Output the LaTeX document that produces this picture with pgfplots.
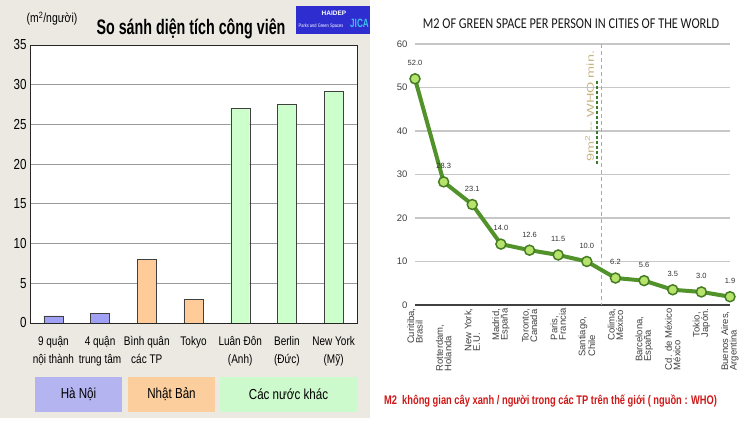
\documentclass[border=0pt]{standalone}
\usepackage{pgfplots}
\pgfplotsset{compat=1.18}
\usepackage{fontspec}
\setmainfont{Liberation Sans}
\newfontfamily\lf[FakeStretch=0.8]{Liberation Sans}
\newfontfamily\lft[FakeStretch=0.68]{Liberation Sans}
\newfontfamily\cf[FakeStretch=0.82]{Carlito}
\newfontfamily\rcap[FakeStretch=0.745]{Liberation Sans}
\newfontfamily\whof[FakeStretch=1.45]{Liberation Sans}
\definecolor{beige}{HTML}{ECE9E3}
\definecolor{hnbar}{HTML}{A0A0F5}
\definecolor{hnbox}{HTML}{B4B4F0}
\definecolor{nbbar}{HTML}{FFCC99}
\definecolor{nbbox}{HTML}{FCCE9E}
\definecolor{gbar}{HTML}{CCFFCC}
\definecolor{gbox}{HTML}{CCFACC}
\definecolor{logoblue}{HTML}{2E2ED0}
\definecolor{jica}{HTML}{3CC0F0}
\definecolor{lgreen}{HTML}{52922A}
\definecolor{mfill}{HTML}{B5E36B}
\definecolor{whotan}{HTML}{D8A848}
\definecolor{whotext}{HTML}{C8B682}
\definecolor{dgreen}{HTML}{3A7A2A}
\definecolor{capred}{HTML}{D01818}
\begin{document}
\begin{tikzpicture}[x=1pt,y=1pt]
\path[fill=white] (0,0) rectangle (750,430);
\fill[beige] (0,12) rectangle (370,430);
% ---------- left chart ----------
\begin{axis}[
  at={(30pt,107pt)}, anchor=south west,
  scale only axis, width=327pt, height=278pt,
  xmin=-0.5, xmax=6.5, ymin=0, ymax=35,
  ytick={0,5,...,35},
  xtick={0,...,6},
  xticklabels={{9 quận\\nội thành},{4 quận\\trung tâm},{Bình quân\\các TP},{Tokyo},{Luân Đôn\\(Anh)},{Berlin\\(Đức)},{New York\\(Mỹ)}},
  xticklabel style={align=center, font=\lf\fontsize{12.5}{18}\selectfont, yshift=-10pt},
  yticklabel style={font=\lf\fontsize{14.5}{14.5}\selectfont},
  /pgf/number format/assume math mode=true,
  major tick length=0pt,
  ymajorgrids, grid style={black!40, line width=0.8pt},
  axis line style={black!85, line width=0.8pt},
  axis background/.style={fill=white},
  ybar, bar width=19pt,
]
\addplot[fill=hnbar, draw=black!75, bar shift=0pt] coordinates {(0,0.9) (1,1.2)};
\addplot[fill=nbbar, draw=black!75, bar shift=0pt] coordinates {(2,8.0) (3,3.0)};
\addplot[fill=gbar, draw=black!75, bar shift=0pt] coordinates {(4,27.0) (5,27.5) (6,29.2)};
\end{axis}
\node[font=\lft\bfseries\fontsize{21}{21}\selectfont] at (191,401) {So sánh diện tích công viên};
\node[font=\lf\fontsize{13}{13}\selectfont] at (52,411) {(m\textsuperscript{2}/người)};
% logo
\fill[logoblue] (296,396) rectangle (370,424);
\node[text=white, font=\bfseries\fontsize{6.5}{7}\selectfont] at (334,417) {HAIDEP};
\node[text=white, font=\lf\fontsize{5}{5}\selectfont] at (321,403.5) {Parks and Green Spaces};
\node[text=jica, font=\lft\bfseries\fontsize{12}{12}\selectfont] at (359.5,407) {JICA};
% group boxes
\fill[hnbox] (35,18) rectangle (122,53);
\fill[nbbox] (128,18) rectangle (215,53);
\fill[gbox] (220,18) rectangle (357,53);
\node[font=\lf\fontsize{14.5}{14.5}\selectfont] at (78.5,36) {Hà Nội};
\node[font=\lf\fontsize{14.5}{14.5}\selectfont] at (171.5,36) {Nhật Bản};
\node[font=\lf\fontsize{14.5}{14.5}\selectfont] at (288.5,36) {Các nước khác};
% ---------- right chart ----------
\begin{axis}[
  at={(415pt,125pt)}, anchor=south west,
  scale only axis, width=315pt, height=261pt,
  xmin=0, xmax=11, ymin=0, ymax=60,
  ytick={10,20,...,60}, extra y ticks={0},
  extra y tick style={grid style={black!75, line width=1.6pt}},
  ymajorgrids, grid style={black!22, line width=1.6pt},
  axis line style={draw=none},
  major tick length=0pt,
  clip=false,
  /pgf/number format/assume math mode=true,
  yticklabel style={font=\fontsize{9.5}{10}\selectfont, text=black!75, xshift=-4pt},
  xtick={0,...,11},
  xticklabels={{Curitiba,\\Brasil},{Rotterdam,\rule{16pt}{0pt}\\Holanda},{New York,\\E.U.},{Madrid,\\España},{Toronto,\\Canada},{Paris,\\Francia},{Santiago,\rule{8pt}{0pt}\\Chile},{Colima,\\México},{Barcelona,\rule{8pt}{0pt}\\España},{Cd. de México\\México},{Tokio,\\Japón.},{Buenos Aires,\rule{3pt}{0pt}\\Argentina}},
  xticklabel style={rotate=90, anchor=east, align=left, font=\fontsize{9.5}{8.5}\selectfont, text=black!75},
]
\draw[whotan, dashed, line width=1pt, dash pattern=on 4pt off 3pt] (axis cs:6.5,60) -- (axis cs:6.5,0);
\draw[dgreen, line width=1.5pt, dash pattern=on 3pt off 2pt] ([xshift=-4pt]axis cs:6.5,51.5) -- ([xshift=-4pt]axis cs:6.5,32.5);
\node[rotate=90, text=whotext, font=\whof\fontsize{10}{10}\selectfont] at ([xshift=-11.5pt]axis cs:6.5,45.7) {9m\textsuperscript{2} -- WHO min.};
\addplot[lgreen, line width=4pt, mark=*, mark size=5pt,
  mark options={fill=mfill, draw=lgreen!85!black, line width=1.5pt},
  nodes near coords={\pgfmathprintnumber[fixed,fixed zerofill,precision=1]{\pgfplotspointmeta}},
  every node near coord/.append style={font=\fontsize{7.5}{8}\selectfont, text=black!80, yshift=9pt}]
  coordinates {(0,52.0) (1,28.3) (2,23.1) (3,14.0) (4,12.6) (5,11.5) (6,10.0) (7,6.2) (8,5.6) (9,3.5) (10,3.0) (11,1.9)};
\end{axis}
\node[font=\cf\fontsize{15}{15}\selectfont, text=black!90] at (571,406.5) {M2 OF GREEN SPACE PER PERSON IN CITIES OF THE WORLD};
\node[font=\rcap\bfseries\fontsize{12.5}{12.5}\selectfont, text=capred] at (550.5,29) {M2\ \ không gian cây xanh / người trong các TP trên thế giới ( nguồn : WHO)};
\end{tikzpicture}
\end{document}
